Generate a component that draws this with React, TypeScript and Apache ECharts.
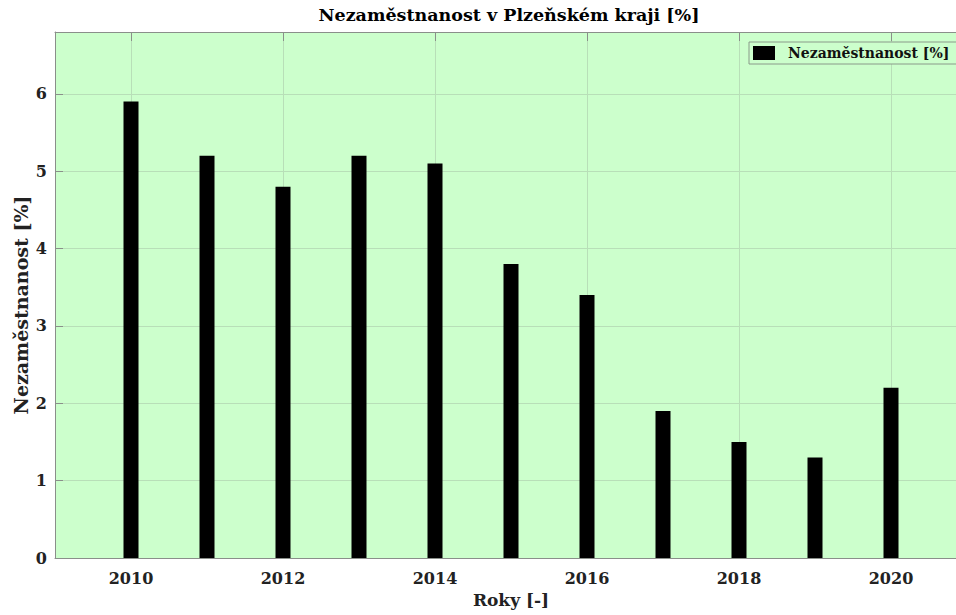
import React, { useEffect, useRef } from "react";
import * as echarts from "echarts";

const years = [2010, 2011, 2012, 2013, 2014, 2015, 2016, 2017, 2018, 2019, 2020];
const unemployment = [5.9, 5.2, 4.8, 5.2, 5.1, 3.8, 3.4, 1.9, 1.5, 1.3, 2.2];
const xRange = [2009, 2021];
const yTicks = [0, 1, 2, 3, 4, 5, 6];
const yMax = 6.8;

const titleText = "Nezaměstnanost v Plzeňském kraji [%]";
const seriesName = "Nezaměstnanost [%]";
const xName = "Roky [-]";
const yName = "Nezaměstnanost [%]";

const FONT = "'DejaVu Serif', serif";

export default function App() {
  const ref = useRef<HTMLDivElement>(null);
  useEffect(() => {
    if (!ref.current) return;
    const chart = echarts.init(ref.current, undefined, { renderer: "svg" });
    const cats: string[] = [];
    for (let y = xRange[0]; y <= xRange[1]; y++) cats.push(String(y));
    const data = cats.map((c) => {
      const i = years.indexOf(Number(c));
      return i >= 0 ? unemployment[i] : null;
    });
    const evenByIdx = (idx: number) => {
      const v = Number(cats[idx]);
      return v % 2 === 0 && v >= years[0] && v <= years[years.length - 1];
    };
    const axisColor = "#8a8f8a";
    const gridColor = "#b8dfb8";
    chart.setOption({
      animation: false,
      backgroundColor: "#ffffff",
      graphic: [
        {
          type: "text",
          x: 509,
          y: 15,
          style: {
            text: titleText,
            fill: "#000",
            font: `bold 17.5px ${FONT}`,
            textAlign: "center",
            textVerticalAlign: "middle",
          },
        },
        {
          type: "text",
          x: 21,
          y: 305,
          rotation: Math.PI / 2,
          style: {
            text: yName,
            fill: "#222",
            font: `bold 19px ${FONT}`,
            textAlign: "center",
            textVerticalAlign: "middle",
          },
        },
      ],
      legend: {
        show: true,
        left: 749,
        top: 42,
        padding: [4, 10, 4, 4],
        itemWidth: 22,
        itemHeight: 14,
        backgroundColor: "#ccffcc",
        borderColor: "#8a9a8a",
        borderWidth: 1,
        borderRadius: 0,
        icon: "rect",
        textStyle: {
          fontFamily: FONT,
          fontWeight: "bold",
          fontSize: 14,
          color: "#111",
          padding: [0, 0, 0, 8],
        },
        data: [seriesName],
      },
      grid: {
        left: 55,
        top: 32,
        bottom: 57,
        right: 1,
        show: true,
        backgroundColor: "#ccffcc",
        borderWidth: 0,
      },
      xAxis: [
        {
          type: "category",
          data: cats,
          boundaryGap: false,
          position: "bottom",
          name: xName,
          nameLocation: "middle",
          nameGap: 33,
          nameTextStyle: { fontFamily: FONT, fontWeight: "bold", fontSize: 17, color: "#222" },
          axisLine: { show: true, lineStyle: { color: axisColor, width: 1 } },
          axisTick: { show: true, inside: true, length: 8, interval: evenByIdx, lineStyle: { color: axisColor } },
          axisLabel: {
            interval: evenByIdx,
            fontFamily: FONT,
            fontWeight: "bold",
            fontSize: 16,
            color: "#222",
            margin: 12,
          },
          splitLine: { show: true, interval: evenByIdx, lineStyle: { color: gridColor, width: 1 } },
        },
        {
          type: "category",
          data: cats,
          boundaryGap: false,
          position: "top",
          axisLine: { show: true, lineStyle: { color: axisColor, width: 1 } },
          axisTick: { show: true, inside: true, length: 9, interval: evenByIdx, lineStyle: { color: axisColor } },
          axisLabel: { show: false },
          splitLine: { show: false },
        },
      ],
      yAxis: {
        type: "value",
        min: yTicks[0],
        max: yMax,
        interval: 1,
        axisLine: { show: true, lineStyle: { color: axisColor, width: 1 } },
        axisTick: { show: true, inside: true, length: 8, lineStyle: { color: axisColor } },
        axisLabel: {
          showMaxLabel: false,
          fontFamily: FONT,
          fontWeight: "bold",
          fontSize: 16,
          color: "#222",
          margin: 8,
          formatter: (v: number) => (yTicks.includes(v) ? String(v) : ""),
        },
        splitLine: { show: true, lineStyle: { color: gridColor, width: 1 } },
      },
      series: [
        {
          name: seriesName,
          type: "bar",
          xAxisIndex: 0,
          data,
          barWidth: 15,
          itemStyle: { color: "#000000" },
        },
      ],
    });
    return () => chart.dispose();
  }, []);
  return (
    <div
      ref={ref}
      style={{ position: "fixed", left: 0, top: 0, width: 968, height: 615 }}
    />
  );
}
